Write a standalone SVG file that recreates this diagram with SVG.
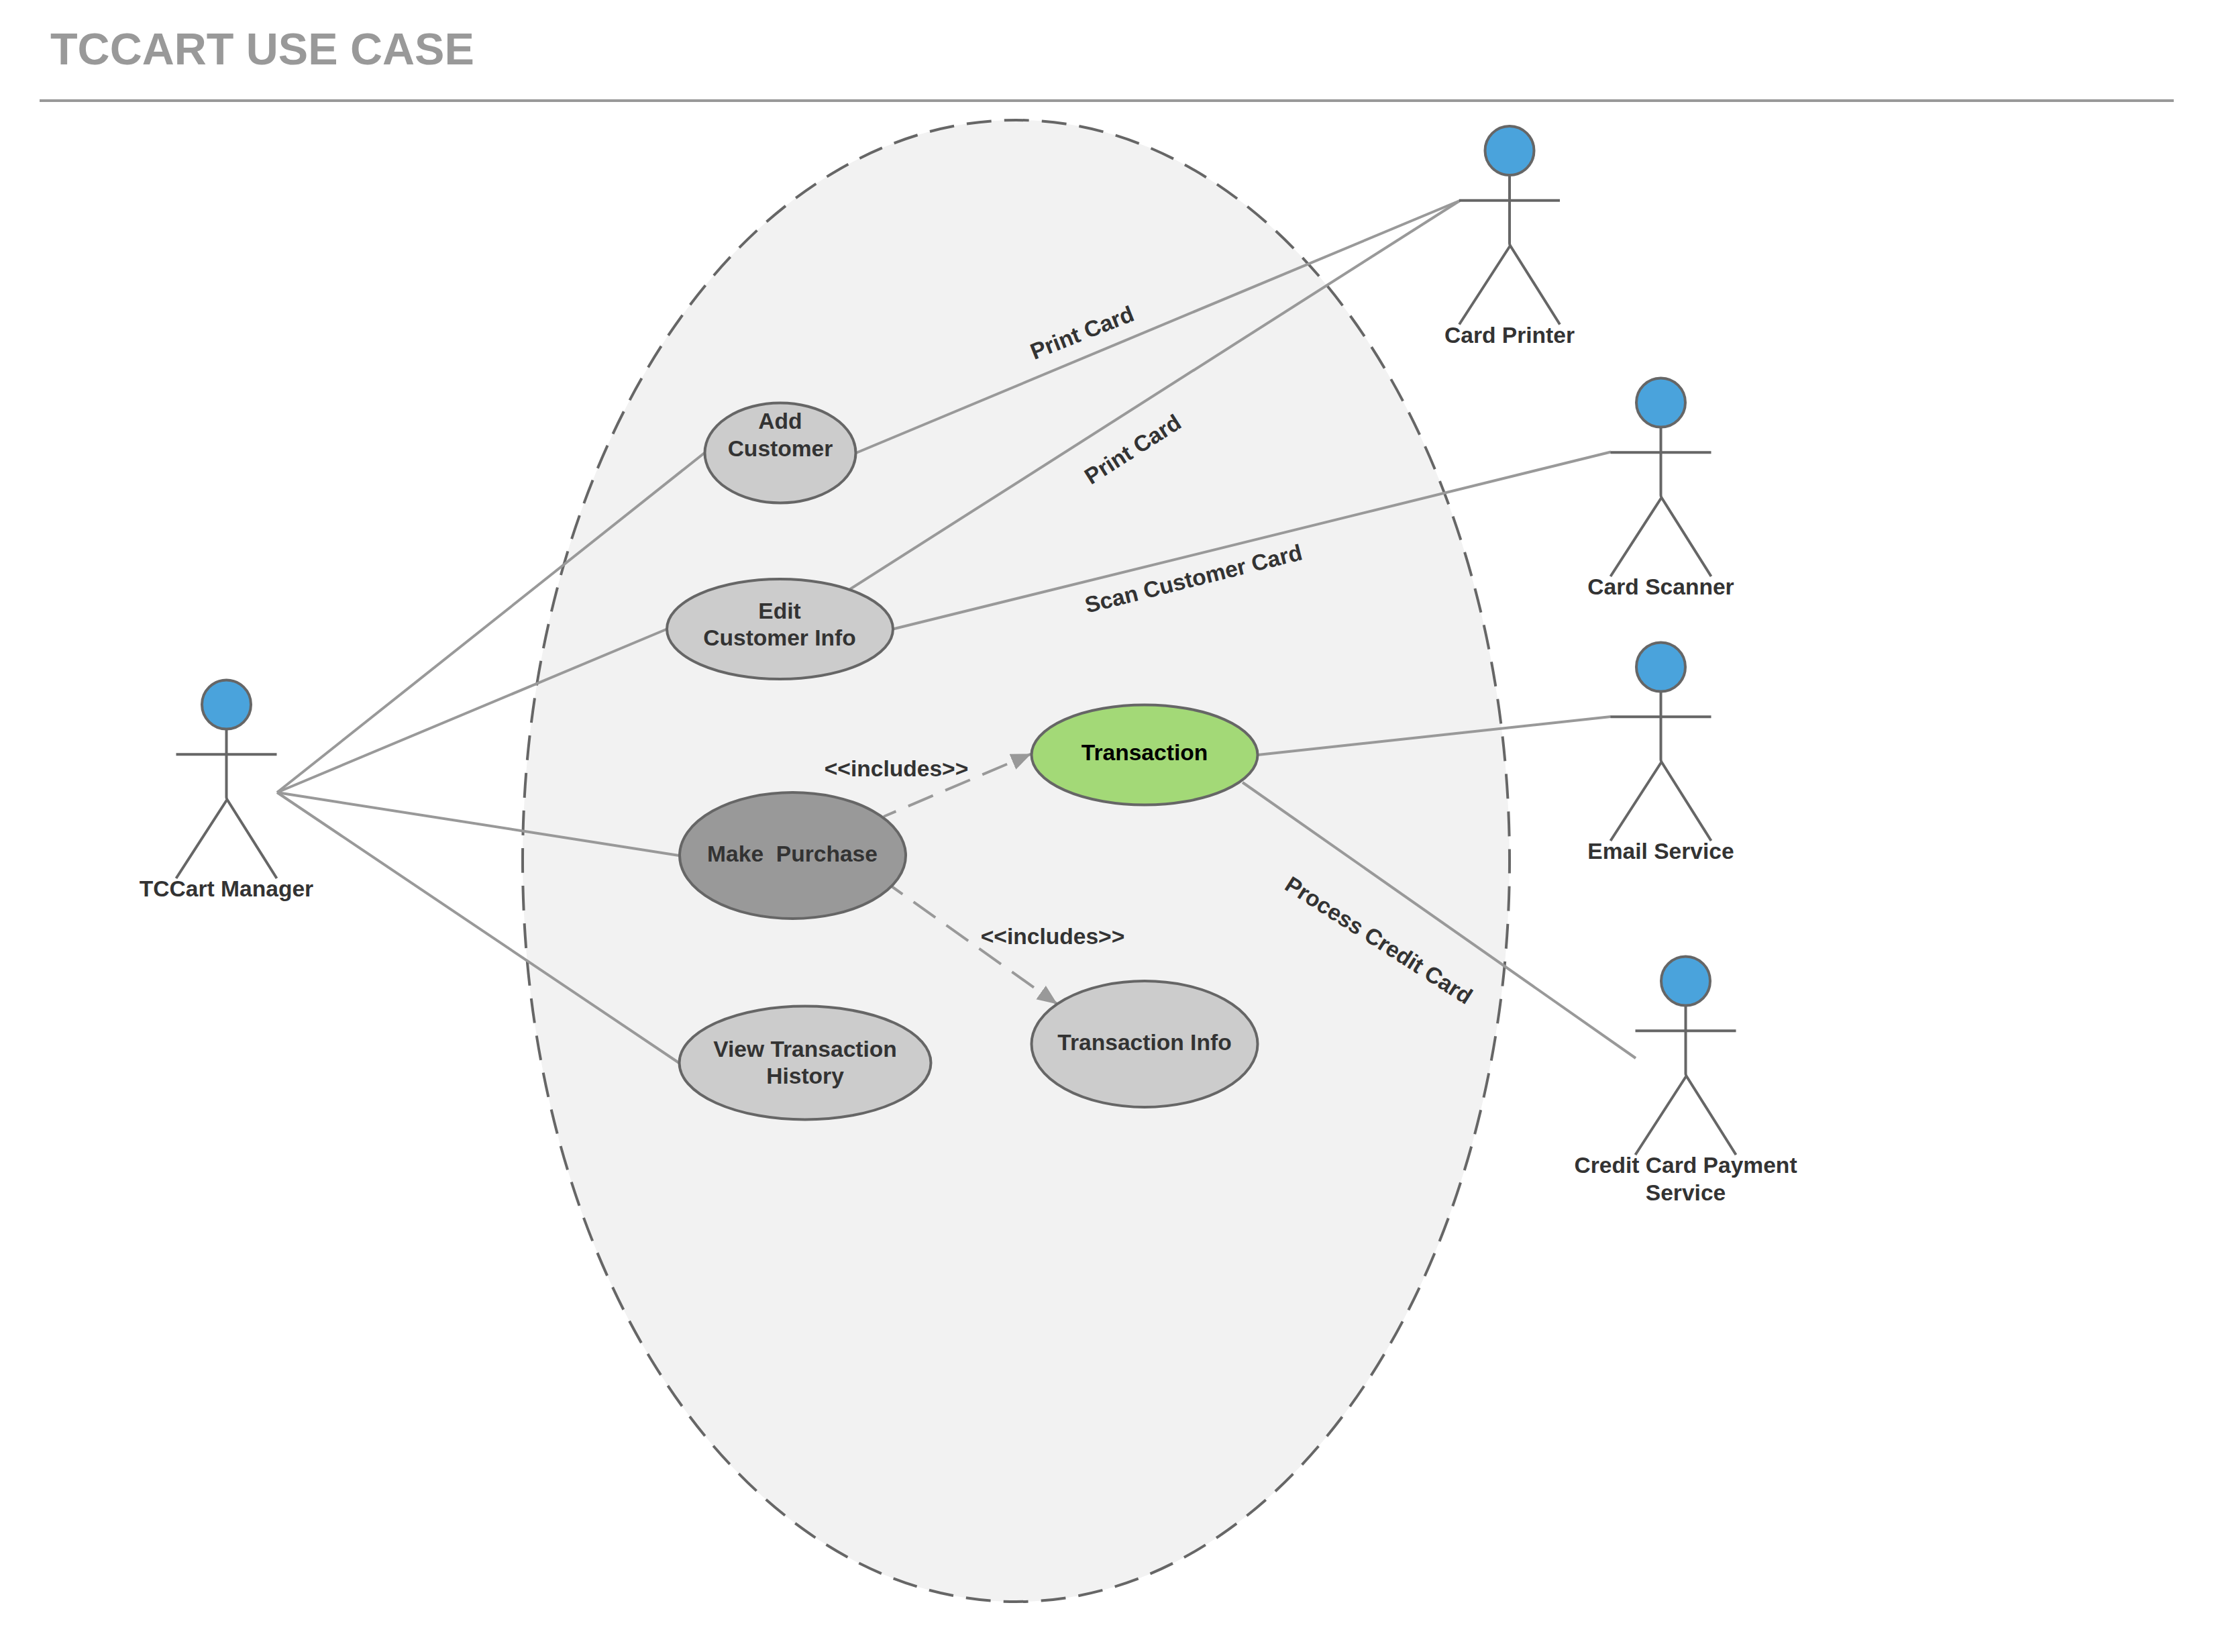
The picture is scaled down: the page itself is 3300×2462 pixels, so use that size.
<svg xmlns="http://www.w3.org/2000/svg" width="3300" height="2462" viewBox="0 0 3300 2462">
<style>
text{font-family:"Liberation Sans",Arial,sans-serif;font-weight:700;font-size:33.600px;fill:#333;text-anchor:middle;white-space:pre}
.title{font-size:66.500px;fill:#999;text-anchor:start}
.uc{stroke:#666;stroke-width:4}
.g1{fill:#ccc}.g2{fill:#999}.gr{fill:#a3d977}
.head{fill:#4aa3dc;stroke:#666;stroke-width:4}
.body{fill:none;stroke:#666;stroke-width:4}
.c{fill:none;stroke:#999;stroke-width:4}
.d{stroke-dasharray:40 20;stroke-dashoffset:20}
</style>
<defs>
<marker id="arr" markerUnits="userSpaceOnUse" markerWidth="32" markerHeight="26" refX="30" refY="12.500" orient="auto"><path d="M0 0L30 12.500L0 25Z" fill="#999"/></marker>
<g id="actor"><circle class="head" r="36.500"/><path class="body" d="M0 38V138Q0 140 1 141.500L75 259M1 141.500L-75 259M-75 74.300H75"/></g>
</defs>
<rect width="3300" height="2462" fill="#fff"/>
<g id="title"><text class="title" x="75" y="96">TCCART USE CASE</text><path d="M59 150H3240" stroke="#999" stroke-width="4" fill="none"/></g>
<g id="system"><ellipse cx="1514.500" cy="1283" rx="735.500" ry="1104" fill="#f2f2f2" stroke="#666" stroke-width="4" stroke-dasharray="37 19.127" stroke-dashoffset="18.300"/></g>
<g id="connectors">
<path class="c" d="M413 1181L1050 675"/>
<path class="c" d="M413 1181L994 937.500"/>
<path class="c" d="M413 1181L1012 1275"/>
<path class="c" d="M413 1181L1012 1584"/>
<path class="c" d="M1276 675L2176 299"/>
<path class="c" d="M1267 878L2176 299"/>
<path class="c" d="M1331 937.500L2401 673.500"/>
<path class="c" d="M1875 1125L2401 1068"/>
<path class="c" d="M1852 1166L2438 1577"/>
<path class="c d" d="M1317 1217L1537 1123.500" marker-end="url(#arr)"/>
<path class="c d" d="M1329 1321L1576 1496.500" marker-end="url(#arr)"/>
</g>
<g id="uc-add"><ellipse class="uc g1" cx="1163" cy="675" rx="112.500" ry="74.500"/><text x="1163" y="639">Add</text><text x="1163" y="680">Customer</text></g>
<g id="uc-edit"><ellipse class="uc g1" cx="1162.500" cy="937.500" rx="168.500" ry="74.500"/><text x="1162" y="922">Edit</text><text x="1162" y="962">Customer Info</text></g>
<g id="uc-transaction"><ellipse class="uc gr" cx="1706" cy="1125" rx="168.500" ry="74.500"/><text x="1706" y="1133" style="fill:#000">Transaction</text></g>
<g id="uc-purchase"><ellipse class="uc g2" cx="1181.500" cy="1275" rx="168.500" ry="94"/><text x="1181" y="1284">Make  Purchase</text></g>
<g id="uc-info"><ellipse class="uc g1" cx="1706" cy="1556" rx="168.500" ry="94"/><text x="1706" y="1565">Transaction Info</text></g>
<g id="uc-view"><ellipse class="uc g1" cx="1200" cy="1584" rx="187.500" ry="84.500"/><text x="1200" y="1575">View Transaction</text><text x="1200" y="1615">History</text></g>
<g id="labels">
<text transform="translate(1617 506.500) rotate(-21.500)">Print Card</text>
<text transform="translate(1694.500 679.300) rotate(-32.500)">Print Card</text>
<text transform="translate(1779 863) rotate(-14)" y="11">Scan Customer Card</text>
<text transform="translate(2049 1411) rotate(32.500)">Process Credit Card</text>
<text x="1336" y="1157">&lt;&lt;includes&gt;&gt;</text>
<text x="1569" y="1407">&lt;&lt;includes&gt;&gt;</text>
</g>
<g id="actor-manager"><use href="#actor" x="337.500" y="1050"/><text x="337.500" y="1336">TCCart Manager</text></g>
<g id="actor-printer"><use href="#actor" x="2250" y="224.500"/><text x="2250" y="510.500">Card Printer</text></g>
<g id="actor-scanner"><use href="#actor" x="2475.500" y="600"/><text x="2475.500" y="886">Card Scanner</text></g>
<g id="actor-email"><use href="#actor" x="2475.500" y="994"/><text x="2475.500" y="1280">Email Service</text></g>
<g id="actor-payment"><use href="#actor" x="2512.500" y="1462"/><text x="2512.500" y="1748">Credit Card Payment</text><text x="2512.500" y="1788.500">Service</text></g>
</svg>
